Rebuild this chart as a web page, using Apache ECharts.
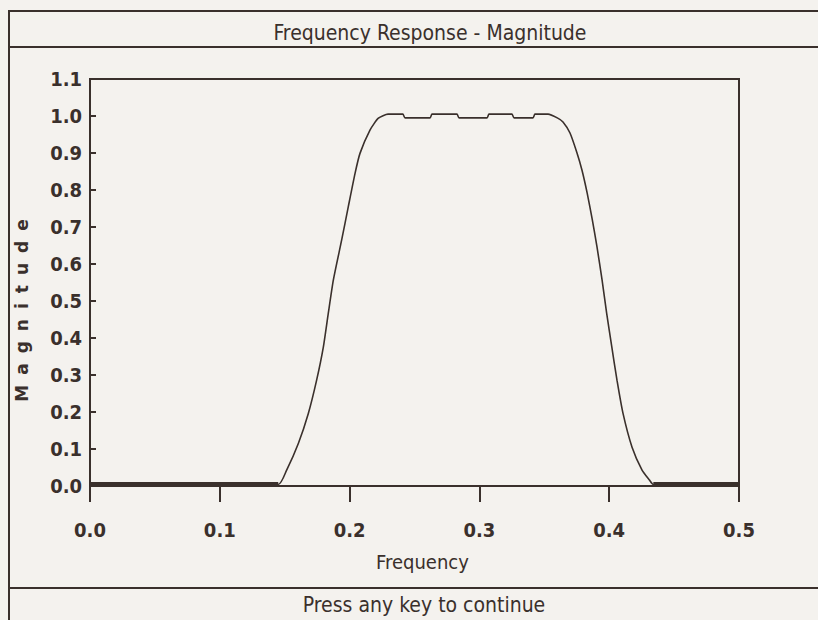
<!DOCTYPE html>
<html>
<head>
<meta charset="utf-8">
<script src="https://cdn.jsdelivr.net/npm/echarts@6/dist/echarts.min.js"></script>
<style>
html,body{margin:0;padding:0;background:#f4f2ee;}
#c{width:818px;height:620px;}
</style>
</head>
<body>
<div id="c"></div>
<script>
// Data
var freq = [0, 0.145, 0.1515, 0.1605, 0.1682, 0.1746, 0.1798, 0.1836, 0.1875, 0.1939, 0.199, 0.2042, 0.208, 0.2157, 0.2222, 0.2296, 0.241, 0.2427, 0.262, 0.2635, 0.2827, 0.2843, 0.3059, 0.3074, 0.325, 0.3267, 0.3413, 0.3428, 0.3529, 0.36, 0.3644, 0.3698, 0.3752, 0.379, 0.383, 0.387, 0.3906, 0.3945, 0.398, 0.402, 0.406, 0.4106, 0.4176, 0.4253, 0.431, 0.434, 0.5];
var mag  = [0.004, 0.004, 0.043, 0.115, 0.196, 0.286, 0.376, 0.467, 0.557, 0.665, 0.755, 0.845, 0.899, 0.962, 0.994, 1.005, 1.005, 0.995, 0.995, 1.005, 1.005, 0.995, 0.995, 1.005, 1.005, 0.995, 0.995, 1.005, 1.005, 0.995, 0.984, 0.954, 0.90, 0.854, 0.792, 0.719, 0.646, 0.557, 0.468, 0.376, 0.286, 0.197, 0.105, 0.043, 0.016, 0.004, 0.004];
var stopLeftIdx = [0, 1];
var stopRightIdx = [45, 46];
var xTicks = [0.0, 0.1, 0.2, 0.3, 0.4, 0.5];
var yTicks = [0.0, 0.1, 0.2, 0.3, 0.4, 0.5, 0.6, 0.7, 0.8, 0.9, 1.0, 1.1];
var titleText = 'Frequency Response - Magnitude';
var xName = 'Frequency';
var yName = 'Magnitude';
var footerText = 'Press any key to continue';

var ink = '#3a302c';
var font = '"DejaVu Sans Condensed", "DejaVu Sans", sans-serif';

var mainData = freq.map(function (f, i) { return [f, mag[i]]; });
var leftStop = stopLeftIdx.map(function (i) { return [freq[i], mag[i]]; });
var rightStop = stopRightIdx.map(function (i) { return [freq[i], mag[i]]; });

var chart = echarts.init(document.getElementById('c'), null, {renderer: 'svg'});
chart.setOption({
  backgroundColor: '#f4f2ee',
  animation: false,
  title: {
    text: titleText, left: 425, top: 17, textAlign: 'center',
    textStyle: {fontFamily: font, fontSize: 21, fontWeight: 'normal', color: ink}
  },
  grid: {left: 90, top: 79, width: 649, height: 407, show: true, borderColor: ink, borderWidth: 2, backgroundColor: 'transparent'},
  xAxis: {
    type: 'value', min: 0, max: 0.5, interval: 0.1,
    name: xName, nameLocation: 'middle', nameGap: 66,
    nameTextStyle: {fontFamily: font, fontSize: 20, color: ink, padding: [0, 0, 0, 16]},
    axisLine: {lineStyle: {color: ink, width: 2}},
    axisTick: {show: true, inside: false, length: 16, lineStyle: {color: ink, width: 2}},
    splitLine: {show: false},
    axisLabel: {
      margin: 34, fontFamily: font, fontSize: 20, fontWeight: 'bold', color: ink,
      formatter: function (v) { return v.toFixed(1); }
    }
  },
  yAxis: {
    type: 'value', min: 0, max: 1.1, interval: 0.1,
    name: yName, nameLocation: 'middle', nameGap: 60, nameRotate: 90,
    nameTextStyle: {fontFamily: '"DejaVu Sans", sans-serif', fontSize: 17, fontWeight: 'bold', color: ink, padding: [0, 46, 0, 0]},
    axisLine: {lineStyle: {color: ink, width: 2}},
    axisTick: {show: true, inside: true, length: 6, lineStyle: {color: ink, width: 2}},
    splitLine: {show: false},
    axisLabel: {
      margin: 8, fontFamily: font, fontSize: 20, fontWeight: 'bold', color: ink,
      formatter: function (v) { return v.toFixed(1); }
    }
  },
  series: [
    {type: 'line', data: mainData, showSymbol: false, smooth: 0.2,
     lineStyle: {color: ink, width: 1.6}},
    {type: 'line', data: leftStop, showSymbol: false,
     lineStyle: {color: ink, width: 5}},
    {type: 'line', data: rightStop, showSymbol: false,
     lineStyle: {color: ink, width: 5}}
  ],
  graphic: [
    {type: 'rect', shape: {x: 9, y: 11, width: 820, height: 640}, style: {fill: null, stroke: ink, lineWidth: 2}, silent: true},
    {type: 'line', shape: {x1: 9, y1: 47, x2: 818, y2: 47}, style: {stroke: ink, lineWidth: 2}, silent: true},
    {type: 'line', shape: {x1: 9, y1: 588, x2: 818, y2: 588}, style: {stroke: ink, lineWidth: 2}, silent: true},
    {type: 'text', x: 424, y: 605, style: {text: footerText, fontFamily: font, fontSize: 21, fill: ink, align: 'center', verticalAlign: 'middle'}}
  ]
});

function spaceYName() {
  var texts = document.querySelectorAll('#c text');
  for (var i = 0; i < texts.length; i++) {
    if (texts[i].textContent === yName) {
      texts[i].style.letterSpacing = '10px';
    }
  }
}
spaceYName();
chart.on('finished', spaceYName);
</script>
</body>
</html>
